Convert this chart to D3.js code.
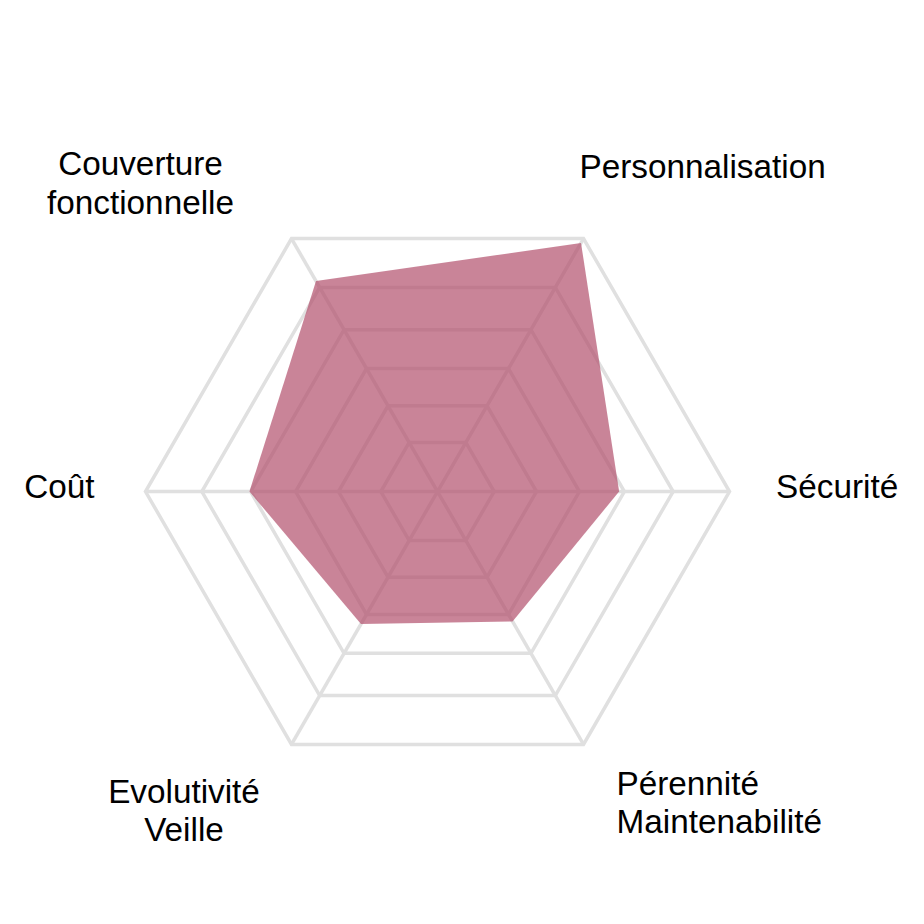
<!DOCTYPE html>
<html>
<head>
<meta charset="utf-8">
<script src="https://cdn.jsdelivr.net/npm/d3@7"></script>
<style>
  html, body { margin: 0; padding: 0; background: #fff; }
  text { font-family: "Liberation Sans", Arial, sans-serif; }
</style>
</head>
<body>
<div id="chart"></div>
<script>
// axes, clockwise from the top-left one
var axes = [
    ['Couverture', 'fonctionnelle'],
    ['Personnalisation'],
    ['Sécurité'],
    ['Pérennité', 'Maintenabilité'],
    ['Evolutivité', 'Veille'],
    ['Coût']
]
var values = [83.2, 98.3, 62.2, 51.4, 52.4, 64.4]
var gridLevels = [19.4, 33.9, 48.6, 64.0, 80.7, 100]

;(function () {
    var width = 924, height = 924
    var cx = 437.5, cy = 491.5, radius = 292

    var svg = d3.select('#chart')
        .append('svg')
        .attr('width', width)
        .attr('height', height)

    var g = svg.append('g')
        .attr('transform', 'translate(' + cx + ',' + cy + ')')

    var rScale = d3.scaleLinear().domain([0, 100]).range([0, radius])
    // lineRadial angle: 0 at 12 o'clock, clockwise
    var aScale = d3.scaleLinear()
        .domain([0, axes.length])
        .range([-Math.PI / 6, 2 * Math.PI - Math.PI / 6])

    var idx = d3.range(axes.length)

    function px(i, v) { return rScale(v) * Math.sin(aScale(i)) }
    function py(i, v) { return -rScale(v) * Math.cos(aScale(i)) }

    var ring = d3.lineRadial()
        .angle(function(d) { return aScale(d.i) })
        .radius(function(d) { return rScale(d.v) })
        .curve(d3.curveLinearClosed)

    // grid hexagons
    g.selectAll('.grid')
        .data(gridLevels)
        .enter().append('path')
        .attr('class', 'grid')
        .attr('d', function(lv) {
            return ring(idx.map(function(i) { return {i: i, v: lv} }))
        })
        .attr('fill', 'none')
        .attr('stroke', '#e0e0e0')
        .attr('stroke-width', 3.5)

    // spokes
    g.selectAll('.spoke')
        .data(idx)
        .enter().append('line')
        .attr('class', 'spoke')
        .attr('x1', 0).attr('y1', 0)
        .attr('x2', function(i) { return px(i, d3.max(gridLevels)) })
        .attr('y2', function(i) { return py(i, d3.max(gridLevels)) })
        .attr('stroke', '#e0e0e0')
        .attr('stroke-width', 3.5)

    // data area
    g.append('path')
        .datum(values.map(function(v, i) { return {i: i, v: v} }))
        .attr('d', ring)
        .attr('fill', '#b2506c')
        .attr('fill-opacity', 0.7)

    // label placement relative to the outer vertex of each axis
    var labelLayout = [
        {anchor: 'middle', dx: -151, dy: -63.5},
        {anchor: 'start', dx: -4, dy: -61},
        {anchor: 'start', dx: 46.5, dy: 6.5},
        {anchor: 'start', dx: 33, dy: 50.5},
        {anchor: 'middle', dx: -107.5, dy: 58.5},
        {anchor: 'end', dx: -51, dy: 6.5}
    ]

    var labels = g.selectAll('.label')
        .data(axes)
        .enter().append('text')
        .attr('class', 'label')
        .attr('font-size', '33.3px')
        .attr('fill', '#000')
        .attr('text-anchor', function(d, i) { return labelLayout[i].anchor })
        .attr('transform', function(d, i) {
            var x = px(i, 100) + labelLayout[i].dx
            var y = py(i, 100) + labelLayout[i].dy
            return 'translate(' + x + ',' + y + ')'
        })

    labels.selectAll('tspan')
        .data(function(d) { return d })
        .enter().append('tspan')
        .attr('x', 0)
        .attr('y', function(d, j) { return j * 38.5 })
        .text(function(d) { return d })
})()
</script>
</body>
</html>
